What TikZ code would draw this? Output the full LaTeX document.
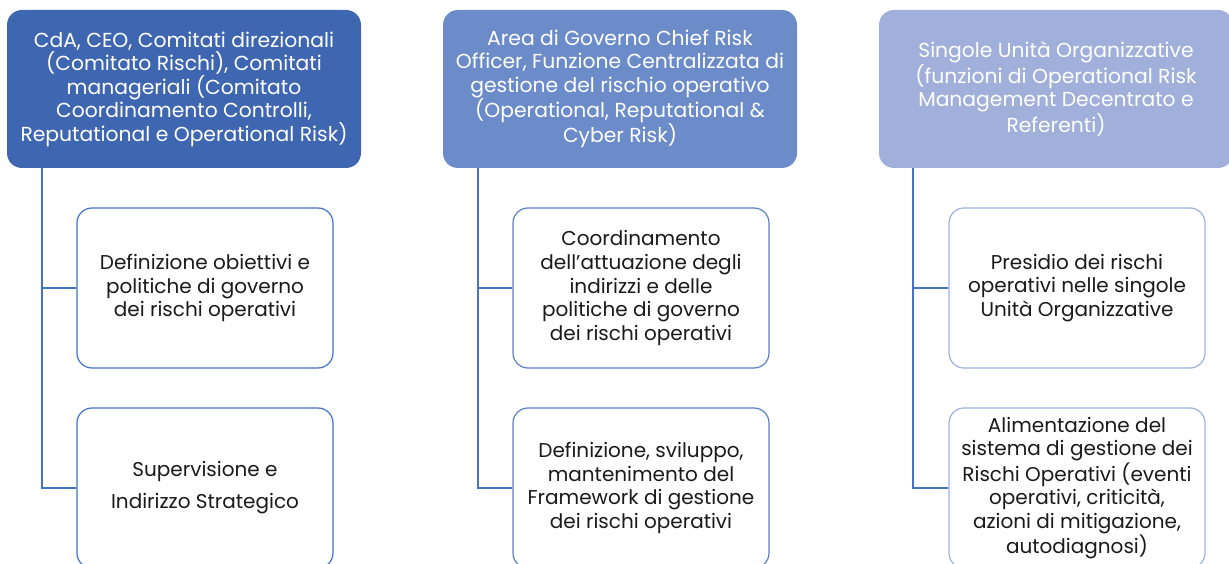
\documentclass[tikz,border=0pt]{standalone}
\usepackage{fontspec}
\setmainfont{Poppins}
\definecolor{hA}{HTML}{3F66B0}
\definecolor{hB}{HTML}{6C8BC9}
\definecolor{hC}{HTML}{A0B0DA}
\definecolor{bA}{HTML}{4472C4}
\definecolor{bB}{HTML}{5A80CA}
\definecolor{bC}{HTML}{9DB2E2}
\definecolor{lnk}{HTML}{4472C4}
\definecolor{txt}{HTML}{1A1A1A}
\tikzset{
  headbox/.style={rounded corners=15pt, minimum width=354pt, minimum height=158pt,
    align=center, text=white, inner sep=0pt, font=\fontsize{20.3}{23.5}\selectfont},
  childbox/.style={draw, line width=1.2pt, rounded corners=15pt, minimum width=256pt,
    minimum height=160pt, align=center, text=txt, inner sep=0pt,
    font=\fontsize{20}{23.8}\selectfont},
  link/.style={draw=lnk, line width=1.3pt}
}
\begin{document}
\begin{tikzpicture}[x=1pt,y=-1pt]
\clip (0,0) rectangle (1229,564);
\fill[white] (0,0) rectangle (1229,564);
% headers
\node[headbox, fill=hA] (h1) at (184,89) {CdA, CEO, Comitati direzionali\\(Comitato Rischi), Comitati\\manageriali (Comitato\\Coordinamento Controlli,\\Reputational e Operational Risk)};
\node[headbox, fill=hB] (h2) at (620,89) {Area di Governo Chief Risk\\Officer, Funzione Centralizzata di\\gestione del rischio operativo\\(Operational, Reputational \&\\Cyber Risk)};
\node[headbox, fill=hC] (h3) at (1056,89) {Singole Unità Organizzative\\(funzioni di Operational Risk\\Management Decentrato e\\Referenti)};
% children
\node[childbox, draw=bA] (c11) at (205,288) {Definizione obiettivi e\\politiche di governo\\dei rischi operativi};
\node[childbox, draw=bA, font=\fontsize{20}{32}\selectfont] (c12) at (205,488) {Supervisione e\\Indirizzo Strategico};
\node[childbox, draw=bB] (c21) at (641,288) {Coordinamento\\dell’attuazione degli\\indirizzi e delle\\politiche di governo\\dei rischi operativi};
\node[childbox, draw=bB] (c22) at (641,488) {Definizione, sviluppo,\\mantenimento del\\Framework di gestione\\dei rischi operativi};
\node[childbox, draw=bC] (c31) at (1077,288) {Presidio dei rischi\\operativi nelle singole\\Unità Organizzative};
\node[childbox, draw=bC] (c32) at (1077,488) {Alimentazione del\\sistema di gestione dei\\Rischi Operativi (eventi\\operativi, criticità,\\azioni di mitigazione,\\autodiagnosi)};
% connectors
\coordinate (s1) at (42,168);
\coordinate (s2) at (478,168);
\coordinate (s3) at (913,168);
\draw[link] (s1) |- (c11.west);
\draw[link] (s1) |- (c12.west);
\draw[link] (s2) |- (c21.west);
\draw[link] (s2) |- (c22.west);
\draw[link] (s3) |- (c31.west);
\draw[link] (s3) |- (c32.west);
\end{tikzpicture}
\end{document}
